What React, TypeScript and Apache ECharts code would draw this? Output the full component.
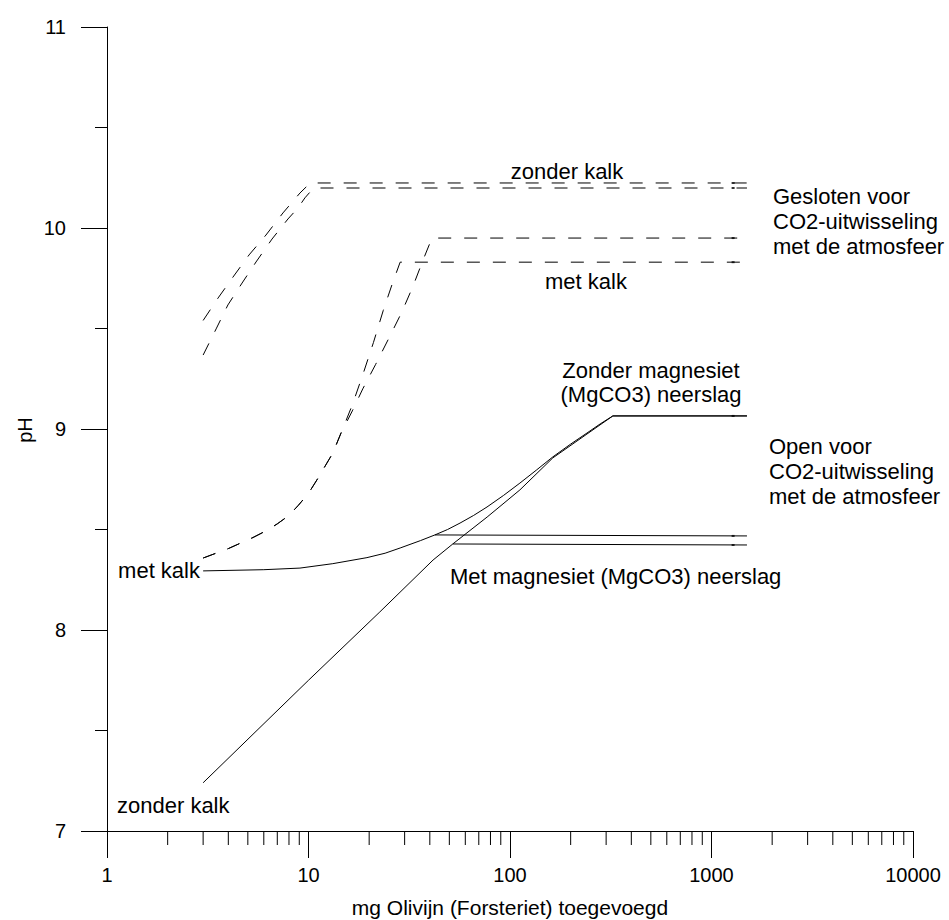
import React, { useEffect, useRef } from "react";
import * as echarts from "echarts";

// x: mg olivine added (log axis), y: pH
const xMinorTicks: number[] = [
  2, 3, 4, 5, 6, 7, 8, 9,
  20, 30, 40, 50, 60, 70, 80, 90,
  200, 300, 400, 500, 600, 700, 800, 900,
  2000, 3000, 4000, 5000, 6000, 7000, 8000, 9000,
];

// Closed system, without lime (two variants)
const closedNoLimeA: [number, number][] = [
  [3, 9.54], [3.56, 9.652], [4.22, 9.756], [5.07, 9.866], [6.15, 9.965],
  [7.47, 10.075], [9.07, 10.174], [10.2, 10.224], [1500, 10.224],
];
const closedNoLimeB: [number, number][] = [
  [3, 9.368], [3.48, 9.498], [3.98, 9.617], [4.68, 9.726], [5.49, 9.831],
  [6.59, 9.945], [7.91, 10.045], [8.87, 10.1], [9.6, 10.15], [10.6, 10.199],
  [1500, 10.199],
];
// Closed system, with lime (two variants)
const closedLimeA: [number, number][] = [
  [3, 8.358], [4, 8.405], [5.3, 8.46], [6.2, 8.495], [7, 8.528], [8, 8.57],
  [8.9, 8.62], [10, 8.68], [11, 8.746], [12, 8.81], [13.2, 8.88], [14.5, 8.98],
  [16.5, 9.09], [18.6, 9.2], [21.5, 9.32], [25, 9.45], [29, 9.58], [33, 9.71],
  [37, 9.84], [41, 9.95], [1500, 9.95],
];
const closedLimeB: [number, number][] = [
  [3, 8.358], [4, 8.405], [5.3, 8.46], [6.2, 8.495], [7, 8.528], [8, 8.57],
  [8.9, 8.62], [10, 8.68], [11, 8.746], [12, 8.81], [13.2, 8.88], [14.5, 8.98],
  [16.5, 9.12], [18.6, 9.27], [21, 9.43], [23.5, 9.59], [26, 9.72],
  [28.5, 9.83], [1500, 9.83],
];
// Open system, with lime
const openLime: [number, number][] = [
  [3, 8.294], [6, 8.3], [9.07, 8.308], [13.2, 8.33], [19.5, 8.36],
  [24, 8.382], [28.5, 8.408], [36, 8.445], [42.4, 8.473], [49, 8.5],
  [56.5, 8.532], [66, 8.57], [76.9, 8.612], [93, 8.67], [112, 8.731],
  [135, 8.795], [163, 8.861], [200, 8.925], [241, 8.98], [280, 9.025],
  [324, 9.065], [1500, 9.065],
];
const openLimeMgs: [number, number][] = [[42.4, 8.473], [1500, 8.468]];
// Open system, without lime
const openNoLime: [number, number][] = [
  [3, 7.24], [10, 7.75], [22.6, 8.09], [41.5, 8.348], [52, 8.428],
  [77, 8.562], [112, 8.697], [163, 8.856], [241, 8.975], [324, 9.065],
  [1500, 9.065],
];
const openNoLimeMgs: [number, number][] = [[52, 8.428], [1500, 8.423]];

// small end marks near the right end of each curve
const endMarks: [number, number][] = [
  [1280, 10.224], [1280, 10.199], [1280, 9.95], [1280, 9.83],
  [1280, 9.065], [1280, 8.468], [1280, 8.423],
];

const FONT = "Liberation Sans, Arial, sans-serif";
const FS = 22;
const TICK_FS = 20;

function txt(text: string, x: number, y: number, align: string = "left", extra: any = {}, fs: number = FS) {
  return {
    type: "text",
    x,
    y,
    ...extra,
    style: {
      text,
      fill: "#000",
      fontSize: fs,
      fontFamily: FONT,
      align,
      verticalAlign: "middle",
      textAlign: align,
      textVerticalAlign: "middle",
    },
  };
}

export default function App() {
  const ref = useRef<HTMLDivElement>(null);
  useEffect(() => {
    if (!ref.current) return;
    const chart = echarts.init(ref.current, undefined, { renderer: "svg" });
    const solid = { color: "#000", width: 1, type: "solid" as const };
    const dashed = { color: "#000", width: 1, type: [13, 13] as any };
    const lineSeries = (data: [number, number][], style: any) => ({
      type: "line",
      data,
      showSymbol: false,
      symbol: "none",
      lineStyle: style,
      z: 3,
      silent: true,
    });
    chart.setOption({
      animation: false,
      backgroundColor: "#fff",
      grid: { left: 107, right: 36, top: 27, bottom: 89, containLabel: false },
      xAxis: {
        type: "log",
        logBase: 10,
        min: 1,
        max: 10000,
        axisLine: { show: true, lineStyle: { color: "#000", width: 1 } },
        axisTick: { show: true, length: 27, lineStyle: { color: "#000", width: 1 } },
        minorTick: { show: false },
        splitLine: { show: false },
        axisLabel: {
          color: "#000",
          fontSize: TICK_FS,
          fontFamily: FONT,
          margin: 34,
          formatter: (v: number) => String(Math.round(v)),
        },
      },
      yAxis: {
        type: "value",
        min: 7,
        max: 11,
        interval: 1,
        axisLine: { show: true, lineStyle: { color: "#000", width: 1 } },
        axisTick: { show: true, length: 26, lineStyle: { color: "#000", width: 1 } },
        minorTick: { show: true, splitNumber: 2, length: 12, lineStyle: { color: "#000", width: 1 } },
        splitLine: { show: false },
        minorSplitLine: { show: false },
        axisLabel: { color: "#000", fontSize: TICK_FS, fontFamily: FONT, margin: 41 },
      },
      series: [
        lineSeries(closedNoLimeA, dashed),
        lineSeries(closedNoLimeB, dashed),
        lineSeries(closedLimeA, dashed),
        lineSeries(closedLimeB, dashed),
        lineSeries(openLime, solid),
        lineSeries(openLimeMgs, solid),
        lineSeries(openNoLime, solid),
        lineSeries(openNoLimeMgs, solid),
        {
          type: "scatter",
          data: endMarks,
          symbol: "rect",
          symbolSize: [3, 2],
          itemStyle: { color: "#000" },
          silent: true,
          z: 4,
        },
        {
          type: "custom",
          clip: false,
          silent: true,
          data: xMinorTicks.map((v) => [v, 7]),
          encode: { x: 0, y: 1 },
          renderItem: (params: any, api: any) => {
            const p = api.coord([api.value(0), api.value(1)]);
            return {
              type: "line",
              shape: { x1: p[0], y1: p[1], x2: p[0], y2: p[1] + 14 },
              style: { stroke: "#000", lineWidth: 1 },
            };
          },
        },
      ],
      graphic: [
        txt("zonder kalk", 567, 171, "center"),
        txt("met kalk", 586, 281, "center"),
        txt("Gesloten voor", 773, 196),
        txt("CO2-uitwisseling", 773, 221),
        txt("met de atmosfeer", 773, 246),
        txt("Zonder magnesiet", 651, 370, "center"),
        txt("(MgCO3) neerslag", 651, 394, "center"),
        txt("Open voor", 769, 446),
        txt("CO2-uitwisseling", 769, 471),
        txt("met de atmosfeer", 769, 496),
        txt("Met magnesiet (MgCO3) neerslag", 450, 576, "left"),
        txt("met kalk", 200, 570, "right"),
        txt("zonder kalk", 117, 805),
        txt("pH", 25, 430, "center", { rotation: Math.PI / 2 }, TICK_FS),
        txt("mg Olivijn (Forsteriet) toegevoegd", 510, 907, "center", {}, 21),
      ],
    });
    return () => chart.dispose();
  }, []);
  return (
    <div
      ref={ref}
      style={{ position: "fixed", left: 0, top: 0, width: 949, height: 920, background: "#fff" }}
    />
  );
}
